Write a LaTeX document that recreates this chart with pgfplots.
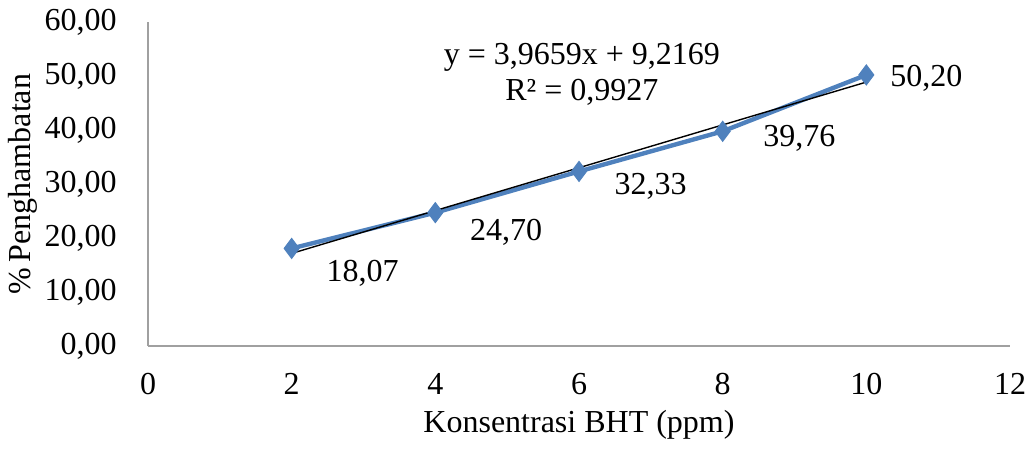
\documentclass[border=0pt]{standalone}
\usepackage{fontspec}
\setmainfont{Liberation Serif}
\usepackage{pgfplots}
\pgfplotsset{compat=1.18}
\definecolor{exblue}{RGB}{79,129,189}
\definecolor{axgray}{RGB}{160,160,160}
\newcommand{\fs}{\fontsize{16}{18.5}\selectfont}
\begin{document}
\begin{tikzpicture}
\begin{axis}[
  scale only axis,
  width=431pt, height=162pt,
  xmin=0, xmax=12, ymin=0, ymax=60,
  xtick={0,2,...,12}, ytick={0,10,...,60},
  axis x line=bottom, axis y line=left,
  axis line style={-, draw=axgray, line width=0.6pt},
  tick style={draw=none},
  /pgf/number format/assume math mode=true,
  yticklabel style={/pgf/number format/fixed, /pgf/number format/fixed zerofill, /pgf/number format/precision=2, /pgf/number format/use comma, xshift=-10pt},
  xticklabel style={/pgf/number format/fixed, /pgf/number format/precision=0, yshift=-8pt},
  ticklabel style={font=\fs},
  label style={font=\fs},
  xlabel={Konsentrasi BHT (ppm)},
  ylabel={\%\,Penghambatan},
  xlabel style={yshift=-1pt},
  ylabel style={yshift=-3pt},
  clip=false,
]
\addplot[exblue, line width=2.2pt, mark=diamond*, mark size=5pt, mark options={fill=exblue, draw=exblue, line width=0.5pt}]
  coordinates {(2,18.07) (4,24.70) (6,32.33) (8,39.76) (10,50.20)};
\addplot[black, line width=0.7pt] coordinates {(2,17.1487) (10,48.8759)};
\node[anchor=west, font=\fs, inner sep=0pt] at (axis cs:2.48,13.5) {18,07};
\node[anchor=west, font=\fs, inner sep=0pt] at (axis cs:4.48,21.1) {24,70};
\node[anchor=west, font=\fs, inner sep=0pt] at (axis cs:6.49,29.6) {32,33};
\node[anchor=west, font=\fs, inner sep=0pt] at (axis cs:8.56,38.4) {39,76};
\node[anchor=west, font=\fs, inner sep=0pt] at (axis cs:10.33,49.6) {50,20};
\node[font=\fs, inner sep=0pt] at (axis cs:6.04,53.5) {y = 3,9659x + 9,2169};
\node[font=\fs, inner sep=0pt] at (axis cs:6.04,47.0) {R² = 0,9927};
\end{axis}
\pgfresetboundingbox
\path (-74pt,-51.5pt) rectangle (441.5pt,173pt);
\end{tikzpicture}
\end{document}
